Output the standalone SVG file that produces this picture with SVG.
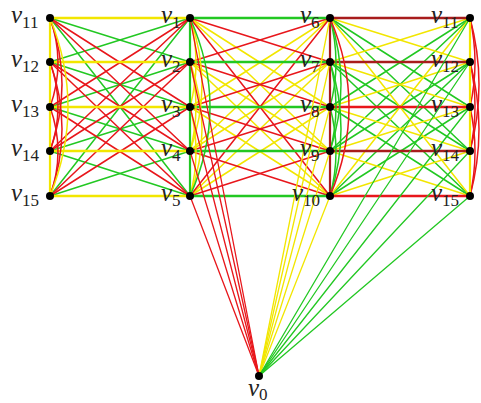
<svg xmlns="http://www.w3.org/2000/svg" width="481" height="403" viewBox="0 0 481 403">
<style>
line,path{fill:none;stroke-linecap:round}
.r{stroke:#e8161b;stroke-width:1.5}
.g{stroke:#22c822;stroke-width:1.5}
.y{stroke:#f2e600;stroke-width:1.5}
.h{stroke-width:2.6}
.v{stroke-width:2.2}
.dr{stroke:#a81c1c}
.e0{stroke-width:1.3}
.dot{fill:#000}
text{font-family:"Liberation Serif","Times New Roman",serif;fill:#222}
.lab{font-size:25px;font-style:italic}
.sub{font-size:17px;font-style:normal}
</style>
<rect width="481" height="403" fill="#fff"/>
<g id="connectors">
<g id="ab">
<line class="g" x1="50" y1="18" x2="190" y2="62"/>
<line class="g" x1="50" y1="62" x2="190" y2="18"/>
<line class="g" x1="50" y1="62" x2="190" y2="107"/>
<line class="g" x1="50" y1="107" x2="190" y2="62"/>
<line class="g" x1="50" y1="107" x2="190" y2="151"/>
<line class="g" x1="50" y1="151" x2="190" y2="107"/>
<line class="g" x1="50" y1="151" x2="190" y2="196"/>
<line class="g" x1="50" y1="196" x2="190" y2="151"/>
<line class="g" x1="50" y1="18" x2="190" y2="196"/>
<line class="g" x1="50" y1="196" x2="190" y2="18"/>
<line class="r" x1="50" y1="18" x2="190" y2="107"/>
<line class="r" x1="50" y1="107" x2="190" y2="18"/>
<line class="r" x1="50" y1="18" x2="190" y2="151"/>
<line class="r" x1="50" y1="151" x2="190" y2="18"/>
<line class="r" x1="50" y1="62" x2="190" y2="151"/>
<line class="r" x1="50" y1="151" x2="190" y2="62"/>
<line class="r" x1="50" y1="62" x2="190" y2="196"/>
<line class="r" x1="50" y1="196" x2="190" y2="62"/>
<line class="r" x1="50" y1="107" x2="190" y2="196"/>
<line class="r" x1="50" y1="196" x2="190" y2="107"/>
</g>
<g id="bc">
<line class="y" x1="190" y1="18" x2="330" y2="107"/>
<line class="y" x1="190" y1="107" x2="330" y2="18"/>
<line class="y" x1="190" y1="18" x2="330" y2="151"/>
<line class="y" x1="190" y1="151" x2="330" y2="18"/>
<line class="y" x1="190" y1="62" x2="330" y2="151"/>
<line class="y" x1="190" y1="151" x2="330" y2="62"/>
<line class="y" x1="190" y1="62" x2="330" y2="196"/>
<line class="y" x1="190" y1="196" x2="330" y2="62"/>
<line class="y" x1="190" y1="107" x2="330" y2="196"/>
<line class="y" x1="190" y1="196" x2="330" y2="107"/>
<line class="r" x1="190" y1="18" x2="330" y2="62"/>
<line class="r" x1="190" y1="62" x2="330" y2="18"/>
<line class="r" x1="190" y1="62" x2="330" y2="107"/>
<line class="r" x1="190" y1="107" x2="330" y2="62"/>
<line class="r" x1="190" y1="107" x2="330" y2="151"/>
<line class="r" x1="190" y1="151" x2="330" y2="107"/>
<line class="r" x1="190" y1="151" x2="330" y2="196"/>
<line class="r" x1="190" y1="196" x2="330" y2="151"/>
<line class="r" x1="190" y1="18" x2="330" y2="196"/>
<line class="r" x1="190" y1="196" x2="330" y2="18"/>
</g>
<g id="ca">
<line class="g" x1="330" y1="18" x2="470" y2="107"/>
<line class="g" x1="330" y1="107" x2="470" y2="18"/>
<line class="g" x1="330" y1="18" x2="470" y2="151"/>
<line class="g" x1="330" y1="151" x2="470" y2="18"/>
<line class="g" x1="330" y1="62" x2="470" y2="151"/>
<line class="g" x1="330" y1="151" x2="470" y2="62"/>
<line class="g" x1="330" y1="62" x2="470" y2="196"/>
<line class="g" x1="330" y1="196" x2="470" y2="62"/>
<line class="g" x1="330" y1="107" x2="470" y2="196"/>
<line class="g" x1="330" y1="196" x2="470" y2="107"/>
<line class="y" x1="330" y1="18" x2="470" y2="62"/>
<line class="y" x1="330" y1="62" x2="470" y2="18"/>
<line class="y" x1="330" y1="62" x2="470" y2="107"/>
<line class="y" x1="330" y1="107" x2="470" y2="62"/>
<line class="y" x1="330" y1="107" x2="470" y2="151"/>
<line class="y" x1="330" y1="151" x2="470" y2="107"/>
<line class="y" x1="330" y1="151" x2="470" y2="196"/>
<line class="y" x1="330" y1="196" x2="470" y2="151"/>
<line class="y" x1="330" y1="18" x2="470" y2="196"/>
<line class="y" x1="330" y1="196" x2="470" y2="18"/>
</g>
<g id="horizontals">
<line class="y h" x1="50" y1="18" x2="190" y2="18"/>
<line class="y h" x1="50" y1="62" x2="190" y2="62"/>
<line class="y h" x1="50" y1="107" x2="190" y2="107"/>
<line class="y h" x1="50" y1="151" x2="190" y2="151"/>
<line class="y h" x1="50" y1="196" x2="190" y2="196"/>
<line class="g h" x1="190" y1="18" x2="330" y2="18"/>
<line class="g h" x1="190" y1="62" x2="330" y2="62"/>
<line class="g h" x1="190" y1="107" x2="330" y2="107"/>
<line class="g h" x1="190" y1="151" x2="330" y2="151"/>
<line class="g h" x1="190" y1="196" x2="330" y2="196"/>
<line class="r h dr" x1="330" y1="18" x2="470" y2="18"/>
<line class="r h dr" x1="330" y1="62" x2="470" y2="62"/>
<line class="r h" x1="330" y1="107" x2="470" y2="107"/>
<line class="r h dr" x1="330" y1="151" x2="470" y2="151"/>
<line class="r h" x1="330" y1="196" x2="470" y2="196"/>
</g>
<g id="col1">
<path class="r" d="M50,18 Q66,62.5 50,107"/>
<path class="r" d="M50,62 Q66,106.5 50,151"/>
<path class="r" d="M50,107 Q66,151.5 50,196"/>
<path class="r" d="M50,18 Q74,84.5 50,151"/>
<path class="r" d="M50,62 Q74,129 50,196"/>
<path class="y" d="M50,18 Q86,107 50,196"/>
<line class="y v" x1="50" y1="18" x2="50" y2="196"/>
</g>
<g id="col2">
<path class="y" d="M190,18 Q202,62.5 190,107"/>
<path class="y" d="M190,62 Q202,106.5 190,151"/>
<path class="y" d="M190,107 Q202,151.5 190,196"/>
<path class="y" d="M190,18 Q214,84.5 190,151"/>
<path class="y" d="M190,62 Q214,129 190,196"/>
<path class="g" d="M190,18 Q230,107 190,196"/>
<line class="g v" x1="190" y1="18" x2="190" y2="196"/>
</g>
<g id="col3">
<path class="g" d="M330,18 Q342,62.5 330,107"/>
<path class="g" d="M330,62 Q342,106.5 330,151"/>
<path class="g" d="M330,107 Q342,151.5 330,196"/>
<path class="g" d="M330,18 Q352,84.5 330,151"/>
<path class="g" d="M330,62 Q352,129 330,196"/>
<path class="r" d="M330,18 Q368,107 330,196"/>
<line class="r v dr" x1="330" y1="18" x2="330" y2="196"/>
</g>
<g id="col4">
<path class="r" d="M470,18 Q480,62.5 470,107"/>
<path class="r" d="M470,62 Q480,106.5 470,151"/>
<path class="r" d="M470,107 Q480,151.5 470,196"/>
<path class="r" d="M470,18 Q488,84.5 470,151"/>
<path class="r" d="M470,62 Q488,129 470,196"/>
<line class="y v" x1="470" y1="18" x2="470" y2="196"/>
</g>
<g id="v0edges">
<line class="r e0" x1="259" y1="376" x2="190" y2="18"/>
<line class="r e0" x1="259" y1="376" x2="190" y2="62"/>
<line class="r e0" x1="259" y1="376" x2="190" y2="107"/>
<line class="r e0" x1="259" y1="376" x2="190" y2="151"/>
<line class="r e0" x1="259" y1="376" x2="190" y2="196"/>
<line class="y e0" x1="259" y1="376" x2="330" y2="18"/>
<line class="y e0" x1="259" y1="376" x2="330" y2="62"/>
<line class="y e0" x1="259" y1="376" x2="330" y2="107"/>
<line class="y e0" x1="259" y1="376" x2="330" y2="151"/>
<line class="y e0" x1="259" y1="376" x2="330" y2="196"/>
<line class="g e0" x1="259" y1="376" x2="470" y2="18"/>
<line class="g e0" x1="259" y1="376" x2="470" y2="62"/>
<line class="g e0" x1="259" y1="376" x2="470" y2="107"/>
<line class="g e0" x1="259" y1="376" x2="470" y2="151"/>
<line class="g e0" x1="259" y1="376" x2="470" y2="196"/>
</g>
</g>
<g id="nodes">
<g id="n_v11a"><circle class="dot" cx="50" cy="18" r="4"/><text class="lab" x="11" y="23">v<tspan class="sub" dy="5">11</tspan></text></g>
<g id="n_v12a"><circle class="dot" cx="50" cy="62" r="4"/><text class="lab" x="11" y="67">v<tspan class="sub" dy="5">12</tspan></text></g>
<g id="n_v13a"><circle class="dot" cx="50" cy="107" r="4"/><text class="lab" x="11" y="112">v<tspan class="sub" dy="5">13</tspan></text></g>
<g id="n_v14a"><circle class="dot" cx="50" cy="151" r="4"/><text class="lab" x="11" y="156">v<tspan class="sub" dy="5">14</tspan></text></g>
<g id="n_v15a"><circle class="dot" cx="50" cy="196" r="4"/><text class="lab" x="11" y="201">v<tspan class="sub" dy="5">15</tspan></text></g>
<g id="n_v1"><circle class="dot" cx="190" cy="18" r="4"/><text class="lab" x="161" y="23">v<tspan class="sub" dy="5">1</tspan></text></g>
<g id="n_v2"><circle class="dot" cx="190" cy="62" r="4"/><text class="lab" x="161" y="67">v<tspan class="sub" dy="5">2</tspan></text></g>
<g id="n_v3"><circle class="dot" cx="190" cy="107" r="4"/><text class="lab" x="161" y="112">v<tspan class="sub" dy="5">3</tspan></text></g>
<g id="n_v4"><circle class="dot" cx="190" cy="151" r="4"/><text class="lab" x="161" y="156">v<tspan class="sub" dy="5">4</tspan></text></g>
<g id="n_v5"><circle class="dot" cx="190" cy="196" r="4"/><text class="lab" x="161" y="201">v<tspan class="sub" dy="5">5</tspan></text></g>
<g id="n_v6"><circle class="dot" cx="330" cy="18" r="4"/><text class="lab" x="300" y="23">v<tspan class="sub" dy="5">6</tspan></text></g>
<g id="n_v7"><circle class="dot" cx="330" cy="62" r="4"/><text class="lab" x="300" y="67">v<tspan class="sub" dy="5">7</tspan></text></g>
<g id="n_v8"><circle class="dot" cx="330" cy="107" r="4"/><text class="lab" x="300" y="112">v<tspan class="sub" dy="5">8</tspan></text></g>
<g id="n_v9"><circle class="dot" cx="330" cy="151" r="4"/><text class="lab" x="300" y="156">v<tspan class="sub" dy="5">9</tspan></text></g>
<g id="n_v10"><circle class="dot" cx="330" cy="196" r="4"/><text class="lab" x="292" y="201">v<tspan class="sub" dy="5">10</tspan></text></g>
<g id="n_v11b"><circle class="dot" cx="470" cy="18" r="4"/><text class="lab" x="431" y="23">v<tspan class="sub" dy="5">11</tspan></text></g>
<g id="n_v12b"><circle class="dot" cx="470" cy="62" r="4"/><text class="lab" x="431" y="67">v<tspan class="sub" dy="5">12</tspan></text></g>
<g id="n_v13b"><circle class="dot" cx="470" cy="107" r="4"/><text class="lab" x="431" y="112">v<tspan class="sub" dy="5">13</tspan></text></g>
<g id="n_v14b"><circle class="dot" cx="470" cy="151" r="4"/><text class="lab" x="431" y="156">v<tspan class="sub" dy="5">14</tspan></text></g>
<g id="n_v15b"><circle class="dot" cx="470" cy="196" r="4"/><text class="lab" x="431" y="201">v<tspan class="sub" dy="5">15</tspan></text></g>
<g id="n_v0"><circle class="dot" cx="259" cy="376" r="4"/><text class="lab" x="248" y="396">v<tspan class="sub" dy="4">0</tspan></text></g>
</g>
</svg>
